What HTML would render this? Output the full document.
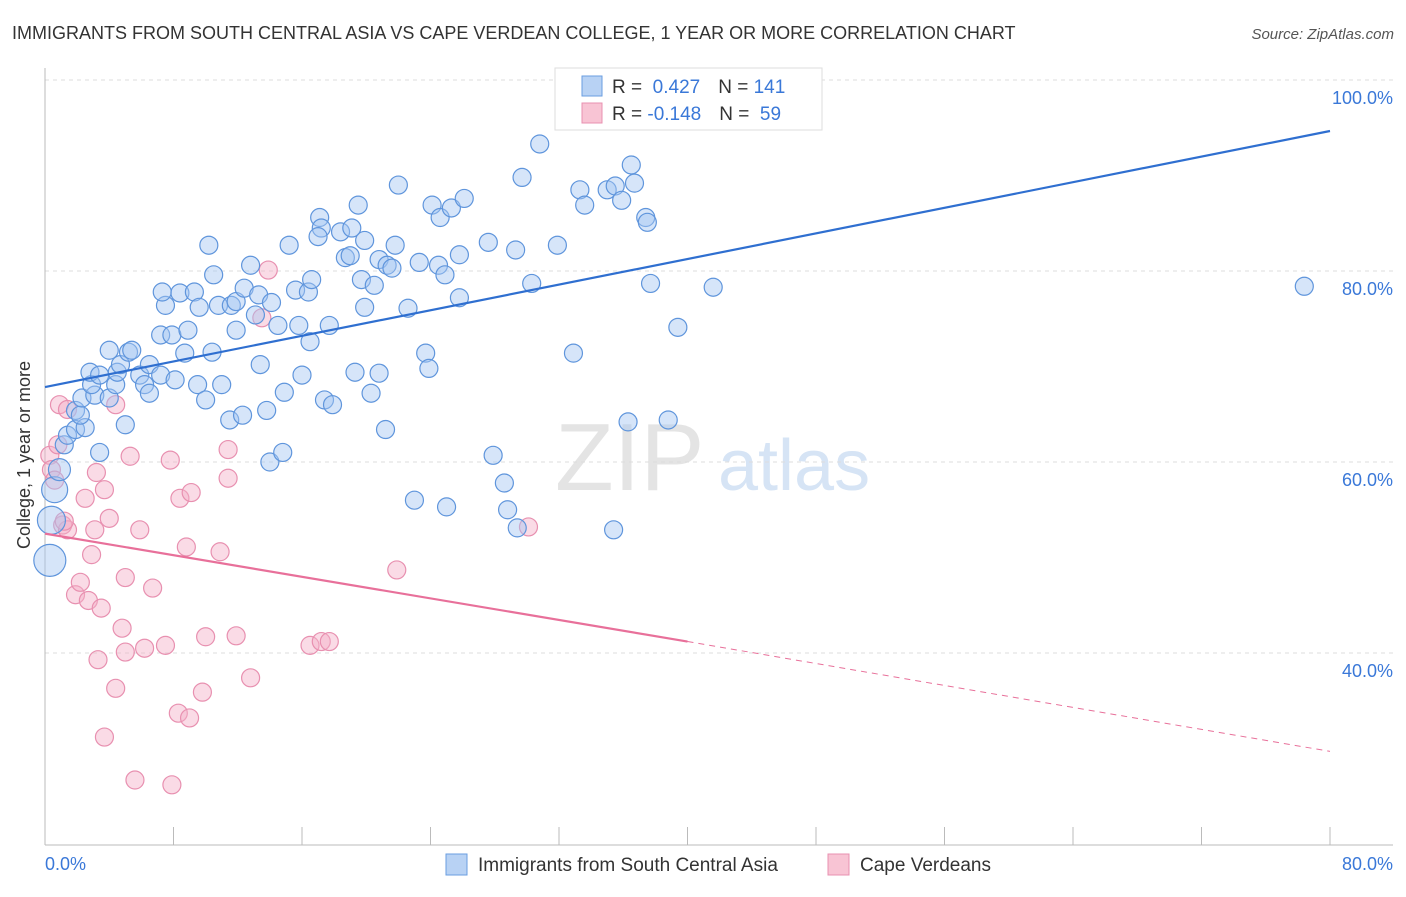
<!DOCTYPE html>
<html><head><meta charset="utf-8"><style>
body{margin:0;background:#fff;font-family:"Liberation Sans",sans-serif;}
svg text{font-family:"Liberation Sans",sans-serif;}
</style></head><body>
<svg width="1406" height="892" xmlns="http://www.w3.org/2000/svg" id="chart">
<text x="12" y="39" font-size="18" fill="#333">IMMIGRANTS FROM SOUTH CENTRAL ASIA VS CAPE VERDEAN COLLEGE, 1 YEAR OR MORE CORRELATION CHART</text>
<text x="1394" y="39" font-size="15" fill="#555" text-anchor="end" font-style="italic">Source: ZipAtlas.com</text>
<text x="555" y="490" font-size="96" fill="#e4e4e4" font-family="Liberation Serif">ZIP</text>
<text x="718" y="490" font-size="72" fill="#d6e4f5">atlas</text>
<g id="grid"></g><g id="pts"></g><g id="lines"></g>
<text x="30" y="455" font-size="18" fill="#333" text-anchor="middle" transform="rotate(-90 30 455)">College, 1 year or more</text>
<text x="45" y="870" font-size="18" fill="#3a78d8">0.0%</text>
<text x="1393" y="870" font-size="18" fill="#3a78d8" text-anchor="end">80.0%</text>
<g>
<rect x="555" y="68" width="267" height="62" fill="#fff" stroke="#ddd"/>
<rect x="582" y="76" width="20" height="20" fill="#b8d2f4" stroke="#6a9ee0"/>
<rect x="582" y="103" width="20" height="20" fill="#f8c4d4" stroke="#e890b0"/>
<text x="612" y="93" font-size="19" fill="#333">R = <tspan fill="#3a78d8">&#160;0.427</tspan><tspan dx="18">N = </tspan><tspan fill="#3a78d8">141</tspan></text>
<text x="612" y="120" font-size="19" fill="#333">R = <tspan fill="#3a78d8">-0.148</tspan><tspan dx="18">N = </tspan><tspan fill="#3a78d8">&#160;59</tspan></text>
</g>
<g>
<rect x="446" y="854" width="21" height="21" fill="#b8d2f4" stroke="#6a9ee0"/>
<text x="478" y="871" font-size="19" fill="#333">Immigrants from South Central Asia</text>
<rect x="828" y="854" width="21" height="21" fill="#f8c4d4" stroke="#e890b0"/>
<text x="860" y="871" font-size="19" fill="#333">Cape Verdeans</text>
</g>
</svg>
<script>
const yTicks=[40,60,80,100];
const yTickLabels=["40.0%","60.0%","80.0%","100.0%"];
const xTicks=[0,8,16,24,32,40,48,56,64,72,80];
const blueX=[0.3,0.4,0.6,0.9,1.2,1.4,1.9,2.5,1.9,2.2,2.3,3.1,2.9,2.8,3.4,4.0,4.4,4.5,4.0,4.7,5.2,5.4,5.0,3.4,5.9,6.2,6.5,6.5,7.2,7.2,7.9,8.1,8.7,8.9,9.5,10.0,10.4,11.0,7.5,7.3,8.4,9.3,9.6,10.5,10.2,10.8,11.6,11.9,11.9,12.4,12.8,13.3,13.1,14.1,14.5,13.4,11.5,12.3,13.8,14.0,14.8,14.9,15.8,16.0,15.6,16.4,16.6,16.5,15.2,17.1,17.2,17.0,17.7,18.4,18.7,19.0,19.1,19.5,19.9,19.7,19.9,20.5,20.8,21.3,21.6,21.8,22.0,22.6,23.3,24.1,24.6,24.5,24.9,25.3,26.1,25.8,25.8,27.6,29.3,29.7,30.3,30.8,31.9,33.3,33.6,35.0,35.5,35.9,36.5,36.7,37.4,37.5,37.7,39.4,41.6,78.4,32.9,36.3,38.8,27.9,28.6,28.8,29.4,23.0,25.0,35.4,23.7,23.9,20.8,20.3,21.2,17.4,17.9,19.3];
const blueY=[49.7,53.9,57.1,59.2,61.8,62.8,63.4,63.6,65.4,64.9,66.7,67.0,68.1,69.4,69.1,66.7,68.1,69.4,71.7,70.2,71.5,71.7,63.9,61.0,69.1,68.1,67.2,70.2,69.1,73.3,73.3,68.6,71.4,73.8,68.1,66.5,71.5,68.1,76.4,77.8,77.7,77.8,76.2,79.6,82.7,76.4,76.4,76.8,73.8,78.2,80.6,77.5,75.4,76.7,74.3,70.2,64.4,64.9,65.4,60.0,61.0,67.3,74.3,69.1,78.0,77.8,79.1,72.6,82.7,85.6,84.5,83.6,74.3,84.1,81.4,81.6,84.5,86.9,83.2,79.1,76.2,78.5,81.2,80.6,80.3,82.7,89.0,76.1,80.9,86.9,85.6,80.6,79.6,86.6,87.6,81.7,77.2,83.0,82.2,89.8,78.7,93.3,82.7,88.5,86.9,88.5,88.9,87.4,91.1,89.2,85.6,85.1,78.7,74.1,78.3,78.4,71.4,64.2,64.4,60.7,57.8,55.0,53.1,56.0,55.3,52.9,71.4,69.8,69.3,67.2,63.4,66.5,66.0,69.4];
const blueSize=[16,14,13,11];
const pinkX=[0.3,0.4,0.6,0.8,0.9,1.4,1.1,1.4,1.9,2.2,2.5,2.7,2.9,3.1,3.2,3.3,3.5,3.7,4.0,4.4,4.4,3.7,4.8,5.0,5.0,5.3,5.9,6.2,6.7,7.5,7.8,8.3,8.4,8.8,5.6,7.9,9.0,9.1,9.8,10.0,10.9,11.4,11.4,11.9,12.8,13.5,13.9,16.5,17.2,17.7,21.9,30.1,1.2];
const pinkY=[60.7,59.2,58.1,61.8,66.0,65.5,53.4,52.9,46.1,47.4,56.2,45.5,50.3,52.9,58.9,39.3,44.7,57.1,54.1,66.0,36.3,31.2,42.6,40.1,47.9,60.6,52.9,40.5,46.8,40.8,60.2,33.7,56.2,51.1,26.7,26.2,33.2,56.8,35.9,41.7,50.6,61.3,58.3,41.8,37.4,75.1,80.1,40.8,41.2,41.2,48.7,53.2,53.8];
const blueTrend=[[0,67.85],[80,94.66]];
const pinkTrend=[[0,52.5],[40,41.2],[80,29.7]];
const NS="http://www.w3.org/2000/svg";
const X=v=>45+v/80*1285, Y=v=>80+(100-v)*9.55;
function mk(t,a,p){const e=document.createElementNS(NS,t);for(const k in a)e.setAttribute(k,a[k]);p.appendChild(e);return e;}
const g=document.getElementById('grid');
yTicks.forEach((t,i)=>{
 const l=mk('line',{x1:45,x2:1393,y1:Y(t),y2:Y(t),stroke:'#ddd','stroke-dasharray':'4,4'},g);
 
 
 const tx=mk('text',{x:1393,y:Y(t)+24,'font-size':18,fill:'#3a78d8','text-anchor':'end'},g);
 tx.textContent=yTickLabels[i];
 
 
});
const ax=mk('line',{x1:45,x2:45,y1:68,y2:845,stroke:'#bbb'},g);


const bx=mk('line',{x1:45,x2:1393,y1:845,y2:845,stroke:'#bbb'},g);


xTicks.forEach(t=>{
 const l=mk('line',{x1:X(t),x2:X(t),y1:827,y2:845,stroke:'#bbb'},g);
 
 
});
const p=document.getElementById('pts');
pinkX.forEach((x,i)=>{
 const c=mk('circle',{cx:X(x),cy:Y(pinkY[i]),r:9,fill:'rgba(245,175,200,0.45)',stroke:'#e890b0','stroke-width':1.2},p);
 
 
});
blueX.forEach((x,i)=>{
 const c=mk('circle',{cx:X(x),cy:Y(blueY[i]),r:blueSize[i]||9,fill:'rgba(165,198,242,0.45)',stroke:'#5f95dc','stroke-width':1.2},p);
 
 
});
const L=document.getElementById('lines');
const bl=mk('line',{x1:X(blueTrend[0][0]),y1:Y(blueTrend[0][1]),x2:X(blueTrend[1][0]),y2:Y(blueTrend[1][1]),stroke:'#2f6fd0','stroke-width':2.2},L);


const pl=mk('line',{x1:X(pinkTrend[0][0]),y1:Y(pinkTrend[0][1]),x2:X(pinkTrend[1][0]),y2:Y(pinkTrend[1][1]),stroke:'#e8709a','stroke-width':2.2},L);


const pd=mk('line',{x1:X(pinkTrend[1][0]),y1:Y(pinkTrend[1][1]),x2:X(pinkTrend[2][0]),y2:Y(pinkTrend[2][1]),stroke:'#e8709a','stroke-width':1,'stroke-dasharray':'6,5'},L);


</script>
</body></html>
